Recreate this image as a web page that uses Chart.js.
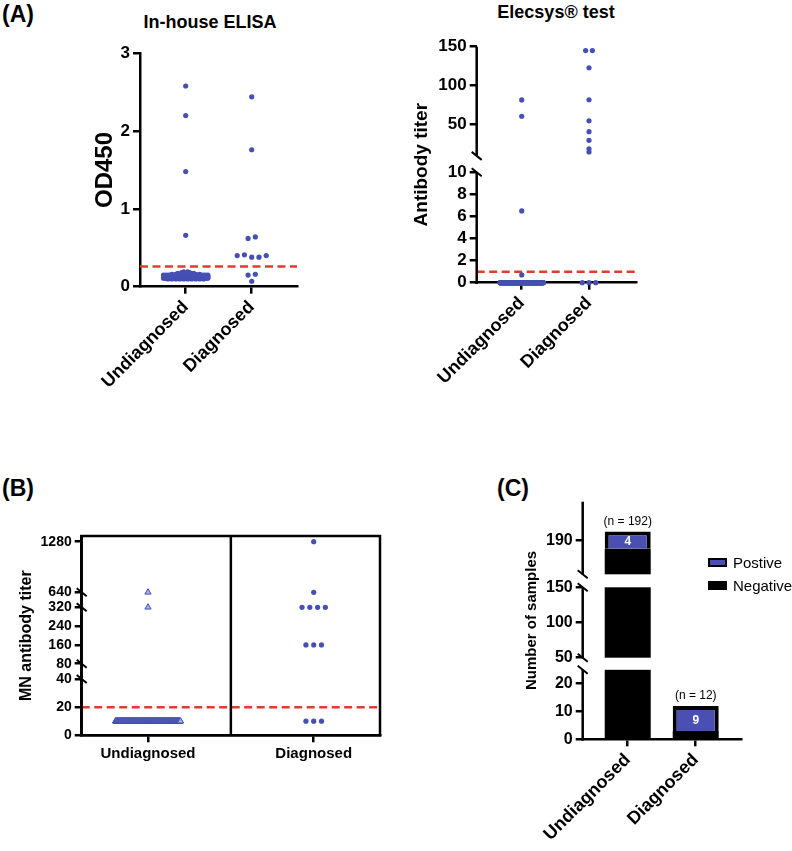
<!DOCTYPE html>
<html>
<head>
<meta charset="utf-8">
<script src="https://cdn.jsdelivr.net/npm/chart.js@4.4.0/dist/chart.umd.min.js"></script>
<style>
  body { margin: 0; background: #fff; }
  #fig { position: relative; width: 792px; height: 851px; font-family: 'Liberation Sans', Arial, sans-serif; color: #000; overflow: hidden; }
  #fig canvas { position: absolute; }
  .txt { position: absolute; white-space: nowrap; line-height: 1; font-weight: bold; transform: translate(-50%, -50%); }
  .panel { position: absolute; font-weight: bold; font-size: 23px; line-height: 1; }
  #legend { position: absolute; left: 708px; top: 551px; font-size: 15px; }
  #legend div { display: flex; align-items: center; height: 23px; }
  #legend .box { width: 15px; height: 5px; border: 2px solid #000; margin-right: 6px; }
</style>
</head>
<body>
<div id="fig">
  <div class="panel" style="left:2px;top:3px">(A)</div>
  <div class="txt" style="left:210px;top:22px;font-size:18px">In-house ELISA</div>
  <div class="txt" style="left:556px;top:12px;font-size:18px">Elecsys® test</div>
  <div class="panel" style="left:2px;top:477px">(B)</div>
  <div class="panel" style="left:497px;top:477px">(C)</div>
  <canvas id="elisa" width="340" height="400" style="left:0;top:0"></canvas>
  <canvas id="elecsys" width="330" height="400" style="left:340px;top:0"></canvas>
  <canvas id="mn" width="400" height="320" style="left:0;top:450px"></canvas>
  <canvas id="count" width="312" height="401" style="left:480px;top:450px"></canvas>
  <div id="legend"></div>
</div>
<script>
// ---- data ----
const groups = ['Undiagnosed', 'Diagnosed'];

const elisaUndiagnosed = [
  2.58, 2.20, 1.48, 0.66,
  0.10, 0.10, 0.10, 0.10, 0.10, 0.10, 0.10, 0.10, 0.10, 0.10,
  0.11, 0.11, 0.11, 0.11, 0.11, 0.11, 0.11, 0.11, 0.11, 0.11,
  0.11, 0.11, 0.11, 0.11, 0.11, 0.11, 0.11, 0.11, 0.11, 0.11,
  0.11, 0.11, 0.11, 0.11, 0.11, 0.11, 0.11, 0.11, 0.11, 0.11,
  0.12, 0.12, 0.12, 0.12, 0.12, 0.12, 0.12, 0.12, 0.12, 0.12,
  0.12, 0.12, 0.12, 0.12, 0.12, 0.12, 0.12, 0.12, 0.12, 0.12,
  0.12, 0.12, 0.12, 0.12, 0.12, 0.12, 0.12, 0.12, 0.12, 0.12,
  0.12, 0.12, 0.12, 0.12, 0.12, 0.12, 0.12, 0.12, 0.12, 0.12,
  0.13, 0.13, 0.13, 0.13, 0.13, 0.13, 0.13, 0.13, 0.13, 0.13,
  0.13, 0.13, 0.13, 0.13, 0.13, 0.13, 0.13, 0.13, 0.13, 0.13,
  0.13, 0.13, 0.13, 0.13, 0.13, 0.13, 0.13, 0.13, 0.13, 0.13,
  0.13, 0.13, 0.13, 0.13, 0.13, 0.13, 0.13, 0.13, 0.13, 0.13,
  0.14, 0.14, 0.14, 0.14, 0.14, 0.14, 0.14, 0.14, 0.14, 0.14,
  0.14, 0.14, 0.14, 0.14, 0.14, 0.14, 0.14, 0.14, 0.14, 0.14,
  0.14, 0.14, 0.14, 0.14, 0.14, 0.14, 0.14, 0.14, 0.14, 0.14,
  0.15, 0.15, 0.15, 0.15, 0.15, 0.15, 0.15, 0.15, 0.15, 0.15,
  0.15, 0.15, 0.15, 0.15, 0.15, 0.15, 0.15, 0.15, 0.15, 0.15,
  0.16, 0.16, 0.16, 0.16, 0.16, 0.16, 0.16, 0.16,
  0.17, 0.17, 0.17, 0.17, 0.17,
  0.18, 0.18, 0.18,
  0.19, 0.19
];
const elisaDiagnosed = [2.44, 1.76, 0.62, 0.64, 0.40, 0.41, 0.38, 0.38, 0.40, 0.15, 0.16, 0.07];
const elisaCutoff = 0.26;
const elisaTicks = [0, 1, 2, 3];

const elecsysUndiagnosed = [
  81.7, 60.8, 6.5, 0.7,
  0, 0, 0, 0, 0, 0, 0, 0, 0, 0, 0, 0, 0, 0, 0, 0, 0, 0, 0, 0,
  0, 0, 0, 0, 0, 0, 0, 0, 0, 0, 0, 0, 0, 0, 0, 0, 0, 0, 0, 0,
  0, 0, 0, 0, 0, 0, 0, 0, 0, 0, 0, 0, 0, 0, 0, 0, 0, 0, 0, 0,
  0, 0, 0, 0, 0, 0, 0, 0, 0, 0, 0, 0, 0, 0, 0, 0, 0, 0, 0, 0,
  0, 0, 0, 0, 0, 0, 0, 0, 0, 0, 0, 0, 0, 0, 0, 0, 0, 0, 0, 0,
  0, 0, 0, 0, 0, 0, 0, 0, 0, 0, 0, 0, 0, 0, 0, 0, 0, 0, 0, 0,
  0, 0, 0, 0, 0, 0, 0, 0, 0, 0, 0, 0, 0, 0, 0, 0, 0, 0, 0, 0,
  0, 0, 0, 0, 0, 0, 0, 0, 0, 0, 0, 0, 0, 0, 0, 0, 0, 0, 0, 0,
  0, 0, 0, 0, 0, 0, 0, 0, 0, 0, 0, 0, 0, 0, 0, 0, 0, 0, 0, 0,
  0, 0, 0, 0, 0, 0, 0, 0
];
const elecsysDiagnosed = [145, 145, 123, 82, 55, 41, 30, 19, 15, 0, 0, 0];
const elecsysCutoff = 1;
const elecsysTicks = [0, 2, 4, 6, 8, 10, 50, 100, 150];

const mnUndiagnosed = [
  640, 320,
  10, 10, 10, 10, 10, 10, 10, 10, 10, 10, 10, 10, 10, 10, 10, 10, 10, 10, 10, 10,
  10, 10, 10, 10, 10, 10, 10, 10, 10, 10, 10, 10, 10, 10, 10, 10, 10, 10, 10, 10,
  10, 10, 10, 10, 10, 10, 10, 10, 10, 10, 10, 10, 10, 10, 10, 10, 10, 10, 10, 10,
  10, 10, 10, 10, 10, 10, 10, 10, 10, 10, 10, 10, 10, 10, 10, 10, 10, 10, 10, 10,
  10, 10, 10, 10, 10, 10, 10, 10, 10, 10, 10, 10, 10, 10, 10, 10, 10, 10, 10, 10,
  10, 10, 10, 10, 10, 10, 10, 10, 10, 10, 10, 10, 10, 10, 10, 10, 10, 10, 10, 10,
  10, 10, 10, 10, 10, 10, 10, 10, 10, 10, 10, 10, 10, 10, 10, 10, 10, 10, 10, 10,
  10, 10, 10, 10, 10, 10, 10, 10, 10, 10, 10, 10, 10, 10, 10, 10, 10, 10, 10, 10,
  10, 10, 10, 10, 10, 10, 10, 10, 10, 10, 10, 10, 10, 10, 10, 10, 10, 10, 10, 10,
  10, 10, 10, 10, 10, 10, 10, 10, 10, 10
];
const mnDiagnosed = [1280, 640, 320, 320, 320, 320, 160, 160, 160, 10, 10, 10];
const mnCutoff = 20;
const mnTicks = [0, 20, 40, 80, 160, 240, 320, 640, 1280];

const countNegative = [188, 3];
const countPositive = [4, 9];
const countTicks = [0, 10, 20, 50, 100, 150, 190];

// ---- look ----
const FONT = "'Liberation Sans', Arial, sans-serif";
const BLUE = '#4650b4';
const BAR_BLUE = '#4a50b2';
const RED = '#e03c2e';

Chart.defaults.font.family = FONT;
Chart.defaults.color = '#000';
Chart.defaults.animation = false;
Chart.defaults.plugins.legend.display = false;
Chart.defaults.plugins.tooltip.enabled = false;

// broken axes: value range of each segment and the share of the axis it gets
const brokenAxes = {
  elecsys: { ticks: elecsysTicks, splitLine: true, segments: [
    { min: 0, max: 10, from: 0, to: 0.4678 },
    { min: 10, max: 150, from: 0.5373, to: 1 }
  ] },
  mn: { ticks: mnTicks, splitLine: false, segments: [
    { min: 0, max: 40, from: 0, to: 0.2825 },
    { min: 80, max: 320, from: 0.3593, to: 0.6423 },
    { min: 640, max: 1352, from: 0.7175, to: 1 }
  ] },
  count: { ticks: countTicks, splitLine: true, whiteGaps: true, segments: [
    { min: 0, max: 25, from: 0, to: 0.2925 },
    { min: 50, max: 150, from: 0.3434, to: 0.6397 },
    { min: 182, max: 199, from: 0.6944, to: 1 }
  ] }
};

class BrokenScale extends Chart.LinearScale {
  static id = 'broken';
  static defaults = {};
  _cfg() { return brokenAxes[this.options.axisKey]; }
  determineDataLimits() {
    const s = this._cfg().segments;
    this.min = s[0].min;
    this.max = s[s.length - 1].max;
  }
  buildTicks() {
    return this._cfg().ticks.map(v => ({ value: v }));
  }
  toDecimal(v) {
    const segs = this._cfg().segments;
    for (let i = 0; i < segs.length; i++) {
      const s = segs[i];
      if (v <= s.max || i === segs.length - 1) {
        if (v >= s.min || i === 0) {
          return s.from + (v - s.min) / (s.max - s.min) * (s.to - s.from);
        }
        const p = segs[i - 1];
        return p.to + (v - p.max) / (s.min - p.max) * (s.from - p.to);
      }
    }
  }
  getPixelForValue(v) {
    if (v === null || v === undefined) return NaN;
    return this.getPixelForDecimal(this.toDecimal(v));
  }
  getValueForPixel(px) {
    const d = this.getDecimalForPixel(px);
    const segs = this._cfg().segments;
    for (let i = 0; i < segs.length; i++) {
      const s = segs[i];
      if (d <= s.to || i === segs.length - 1) {
        if (d >= s.from || i === 0) return s.min + (d - s.from) / (s.to - s.from) * (s.max - s.min);
        const p = segs[i - 1];
        return p.max + (d - p.to) / (s.from - p.to) * (s.min - p.max);
      }
    }
  }
}
Chart.register(BrokenScale);

// spread the points of one group sideways, row by row (like a column scatter)
function swarm(values, center, rowStep, dx, maxHalf) {
  const rows = {};
  values.forEach(v => {
    const k = Math.round(v / rowStep + 1e-9);
    (rows[k] = rows[k] || []).push(v);
  });
  const pts = [];
  Object.values(rows).forEach(row => {
    const n = row.length;
    const step = n > 1 ? Math.min(dx, 2 * maxHalf / (n - 1)) : 0;
    row.forEach((v, i) => pts.push({ x: center + (i - (n - 1) / 2) * step, y: v }));
  });
  return pts;
}

const gridOpts = { drawOnChartArea: false, tickLength: 7, lineWidth: 2.5, color: '#000', offset: false };

function groupAxis(min, max, height, size, rot) {
  return {
    type: 'linear', min, max, offset: false,
    afterBuildTicks: s => { s.ticks = [{ value: 1 }, { value: 2 }]; },
    afterFit: s => { s.height = height; },
    ticks: { callback: v => groups[Math.round(v) - 1], font: { size, weight: 'bold' },
             minRotation: rot, maxRotation: rot, autoSkip: false, padding: 3 },
    grid: gridOpts,
    border: { width: 2.5, color: '#000' }
  };
}

function valueAxis(extra, width, size, title, titleSize, titlePad) {
  return Object.assign({
    afterFit: s => { s.width = width; },
    ticks: { callback: v => String(v), font: { size, weight: 'bold' }, padding: 3, autoSkip: false },
    grid: gridOpts,
    border: { width: 2.5, color: '#000' },
    title: { display: true, text: title, font: { size: titleSize, weight: 'bold' }, padding: { top: titlePad, bottom: 0 } }
  }, extra);
}

function cutoffLine(xmin, xmax, y) {
  return { data: [{ x: xmin, y }, { x: xmax, y }], showLine: true, borderColor: RED,
           borderWidth: 2.5, borderDash: [8, 4.5], pointRadius: 0, fill: false };
}

function dots(data, extra) {
  return Object.assign({ data, pointRadius: 2.6, backgroundColor: BLUE, borderColor: BLUE,
                         borderWidth: 0, clip: false }, extra || {});
}

const brokenAxisPlugin = {
  id: 'brokenAxis',
  afterDatasetsDraw(chart) {
    const y = chart.scales.y;
    const cfg = brokenAxes[y.options.axisKey];
    if (!cfg || !cfg.whiteGaps) return;
    const { ctx, chartArea: a } = chart;
    const segs = cfg.segments;
    ctx.save();
    ctx.fillStyle = '#fff';
    for (let i = 1; i < segs.length; i++) {
      const top = y.getPixelForDecimal(segs[i].from);
      const bot = y.getPixelForDecimal(segs[i - 1].to);
      ctx.fillRect(a.left + 1, top, a.right - a.left, bot - top);
    }
    ctx.restore();
  },
  afterDraw(chart) {
    const y = chart.scales.y;
    const cfg = brokenAxes[y.options.axisKey];
    if (!cfg) return;
    const { ctx, chartArea: a } = chart;
    const segs = cfg.segments;
    const x0 = a.left;
    ctx.save();
    ctx.strokeStyle = '#000';
    if (cfg.splitLine) {
      ctx.lineWidth = 2.5;
      segs.forEach((s, i) => {
        ctx.beginPath();
        ctx.moveTo(x0, y.getPixelForDecimal(s.from) + (i === 0 ? 1.25 : 0));
        ctx.lineTo(x0, y.getPixelForDecimal(s.to));
        ctx.stroke();
      });
    }
    ctx.lineWidth = 2;
    for (let i = 1; i < segs.length; i++) {
      [segs[i - 1].to, segs[i].from].forEach(d => {
        const py = y.getPixelForDecimal(d);
        ctx.beginPath();
        ctx.moveTo(x0 - 5, py - 4);
        ctx.lineTo(x0 + 5, py + 4);
        ctx.stroke();
      });
    }
    ctx.restore();
  }
};

const boxPlugin = {
  id: 'box',
  afterDraw(chart) {
    const { ctx, chartArea: a } = chart;
    ctx.save();
    ctx.lineWidth = 2.5;
    ctx.strokeStyle = '#000';
    ctx.strokeRect(a.left, a.top, a.right - a.left, a.bottom - a.top);
    const xd = chart.scales.x.getPixelForValue(1.5);
    ctx.beginPath();
    ctx.moveTo(xd, a.top);
    ctx.lineTo(xd, a.bottom);
    ctx.stroke();
    ctx.restore();
  }
};

const barLabelPlugin = {
  id: 'barLabels',
  afterDraw(chart) {
    const { ctx } = chart;
    const pos = chart.getDatasetMeta(1).data;
    ctx.save();
    ctx.textAlign = 'center';
    countPositive.forEach((p, i) => {
      const el = pos[i];
      ctx.fillStyle = '#000';
      ctx.font = '12px ' + FONT;
      ctx.textBaseline = 'bottom';
      ctx.fillText('(n = ' + (p + countNegative[i]) + ')', el.x, el.y - 4);
      ctx.fillStyle = '#fff';
      ctx.font = 'bold 12px ' + FONT;
      ctx.textBaseline = 'middle';
      ctx.fillText(String(p), el.x, (el.y + 4 + el.base) / 2);
    });
    ctx.restore();
  }
};

// ---- (A) In-house ELISA ----
new Chart(document.getElementById('elisa'), {
  type: 'scatter',
  data: { datasets: [
    dots(swarm(elisaUndiagnosed, 1, 0.01, 0.06, 0.335)),
    dots(swarm(elisaDiagnosed, 2, 0.1, 0.11, 0.35)),
    cutoffLine(0.308, 2.686, elisaCutoff)
  ] },
  options: {
    responsive: false,
    layout: { padding: { left: 0, top: 53.3, right: 43, bottom: 0 } },
    scales: {
      x: groupAxis(0.308, 2.686, 113.3, 18, 45),
      y: valueAxis({ type: 'linear', min: 0, max: 3,
                     afterBuildTicks: s => { s.ticks = elisaTicks.map(v => ({ value: v })); } },
                   140, 17, 'OD450', 24, 91)
    }
  }
});

// ---- (A) Elecsys ----
new Chart(document.getElementById('elecsys'), {
  type: 'scatter',
  data: { datasets: [
    dots(swarm(elecsysUndiagnosed, 1, 0.5, 0.1, 0.322)),
    dots(swarm(elecsysDiagnosed, 2, 5, 0.1, 0.3)),
    cutoffLine(0.331, 2.709, elecsysCutoff)
  ] },
  options: {
    responsive: false,
    layout: { padding: { left: 0, top: 46.7, right: 33.3, bottom: 0 } },
    scales: {
      x: groupAxis(0.331, 2.709, 117.3, 18, 45),
      y: valueAxis({ type: 'broken', axisKey: 'elecsys', border: { display: false } },
                   136.7, 17, 'Antibody titer', 19, 70.3)
    }
  },
  plugins: [brokenAxisPlugin]
});

// ---- (B) MN antibody titer ----
new Chart(document.getElementById('mn'), {
  type: 'scatter',
  data: { datasets: [
    dots(swarm(mnUndiagnosed, 1, 5, 0.047, 0.196),
         { pointStyle: 'triangle', pointRadius: 3.6, backgroundColor: '#aab0e2', borderWidth: 1 }),
    dots(swarm(mnDiagnosed, 2, 5, 0.047, 0.2)),
    cutoffLine(0.6, 2.4, mnCutoff)
  ] },
  options: {
    responsive: false,
    layout: { padding: { left: 0, top: 86, right: 20, bottom: 0 } },
    scales: {
      x: groupAxis(0.6, 2.4, 34.7, 15, 0),
      y: valueAxis({ type: 'broken', axisKey: 'mn' }, 81.7, 14, 'MN antibody titer', 16, 17.4)
    }
  },
  plugins: [boxPlugin, brokenAxisPlugin]
});

// ---- (C) Number of samples ----
const countChart = new Chart(document.getElementById('count'), {
  type: 'bar',
  data: { datasets: [
    { label: 'Negative', data: countNegative.map((v, i) => ({ x: i + 1, y: v })),
      backgroundColor: '#000', borderColor: '#000', borderWidth: 0, barThickness: 46, inflateAmount: 0 },
    { label: 'Postive', data: countPositive.map((v, i) => ({ x: i + 1, y: v })),
      backgroundColor: BAR_BLUE, borderColor: '#000', borderSkipped: false,
      borderWidth: { top: 4, left: 4, right: 4, bottom: 0 }, barThickness: 46, inflateAmount: 0 }
  ] },
  options: {
    responsive: false,
    layout: { padding: { left: 0, top: 51.7, right: 50.3, bottom: 0 } },
    scales: {
      x: Object.assign(groupAxis(0.338, 2.676, 111.7, 18, 45), { stacked: true }),
      y: valueAxis({ type: 'broken', axisKey: 'count', stacked: true, border: { display: false } },
                   102.7, 16, 'Number of samples', 15, 42.7)
    }
  },
  plugins: [brokenAxisPlugin, barLabelPlugin]
});

const legendEl = document.getElementById('legend');
countChart.data.datasets.slice().reverse().forEach(ds => {
  const row = document.createElement('div');
  row.innerHTML = '<span class="box" style="background:' + ds.backgroundColor + '"></span>' + ds.label;
  legendEl.appendChild(row);
});
</script>
</body>
</html>
